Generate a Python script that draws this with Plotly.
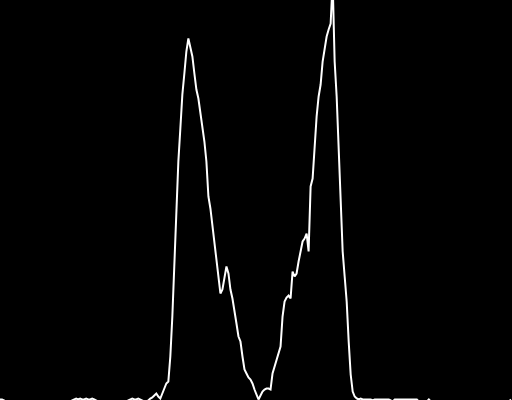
import plotly.graph_objects as go

# 256-bin histogram (bin index -> count)
bins = list(range(256))

left_tail = [2, 2, 1] + [0] * 33 + [1, 2, 3, 2, 3, 2, 2, 3, 2, 2, 3, 2, 1] + [0] * 15 + \
            [1, 2, 3, 2, 2, 3, 2, 1, 0, 0, 1]
# bins 75..180
body = [3, 4, 6, 8, 5, 3, 8, 14, 18, 20,
        45, 85, 140, 180, 240, 273, 307, 328, 350, 363,
        352, 345, 328, 312, 303, 290, 275, 260, 240, 205,
        193, 177, 160, 145, 130, 108, 112, 125, 135, 128,
        112, 103, 88, 78, 65, 60, 45, 32, 28, 24,
        22, 18, 12, 6, 2, 6, 10, 12, 13, 13,
        12, 28, 35, 40, 48, 55, 85, 100, 104, 106,
        103, 130, 125, 128, 140, 152, 160, 163, 168, 150,
        215, 223, 255, 285, 305, 317, 340, 355, 365, 372,
        378, 420, 340, 305, 255, 190, 150, 125, 100, 60,
        27, 10, 5, 3, 2, 3]
right_tail = [2, 2, 2, 2, 2, 1, 2, 2, 2, 2, 2, 2, 2, 2, 1, 0, 2, 2, 2, 2, 2, 2, 2, 2, 2, 2, 2, 2,
              0, 0, 0, 0, 0, 2, 0, 0, 0, 0, 0, 0, 0, 0, 0, 0, 0, 0, 0, 0, 0, 0, 0, 0, 0, 0, 0, 0,
              0, 0, 0, 0, 0, 0, 0, 0, 0, 0, 0, 0, 0, 0, 0, 0, 0, 0, 2]
counts = left_tail + body + right_tail
counts = (counts + [0] * 256)[:256]

fig = go.Figure(go.Scatter(
    x=bins, y=counts, mode="lines",
    line=dict(color="white", width=2),
    hoverinfo="skip",
))
fig.update_layout(
    width=512, height=400,
    margin=dict(l=0, r=0, t=0, b=0),
    paper_bgcolor="black", plot_bgcolor="black",
    showlegend=False,
    xaxis=dict(range=[0, 255.5], visible=False, showgrid=False, zeroline=False),
    yaxis=dict(range=[1.5, 401.5], visible=False, showgrid=False, zeroline=False),
)
fig.write_html("out.html", config={"displayModeBar": False})
